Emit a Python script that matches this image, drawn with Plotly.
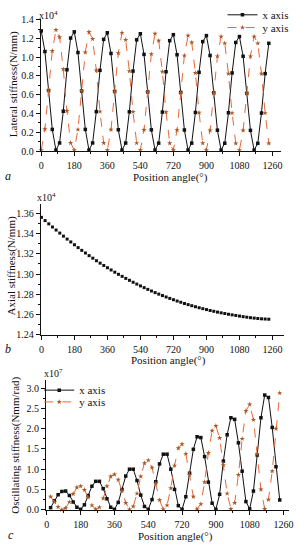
import plotly.graph_objects as go

# ---------------- data ----------------
angles = list(range(0, 1241, 20))          # position angle (deg), panels a & b
angles_c = list(range(20, 1241, 20))       # position angle (deg), panel c

# Panel a: lateral stiffness (x10^4 N/mm)
lat_x = [1.28, 1.06, 0.645, 0.23, 0.01, 0.086, 0.424, 0.866, 1.204,
         1.27, 1.05, 0.64, 0.23, 0.01, 0.086, 0.42, 0.86, 1.19,
         1.26, 1.04, 0.635, 0.227, 0.01, 0.085, 0.418, 0.852, 1.185,
         1.25, 1.03, 0.63, 0.226, 0.01, 0.084, 0.415, 0.845, 1.176,
         1.24, 1.026, 0.625, 0.224, 0.01, 0.084, 0.411, 0.839, 1.166,
         1.23, 1.018, 0.62, 0.222, 0.01, 0.083, 0.408, 0.832, 1.157,
         1.22, 1.01, 0.615, 0.22, 0.01, 0.082, 0.405, 0.825, 1.148]
lat_y = [0.010, 0.233, 0.650, 1.067, 1.290, 1.213, 0.872, 0.428, 0.087,
         0.010, 0.229, 0.640, 1.051, 1.270, 1.194, 0.859, 0.421, 0.086,
         0.010, 0.227, 0.635, 1.043, 1.260, 1.185, 0.852, 0.418, 0.085,
         0.010, 0.226, 0.630, 1.034, 1.250, 1.176, 0.845, 0.415, 0.084,
         0.010, 0.222, 0.620, 1.018, 1.230, 1.157, 0.832, 0.408, 0.083,
         0.010, 0.220, 0.615, 1.010, 1.220, 1.148, 0.825, 0.405, 0.082,
         0.010, 0.220, 0.615, 1.010, 1.220, 1.148, 0.825, 0.405, 0.082]

# Panel b: axial stiffness (x10^4 N/mm)
axial = [1.3558, 1.3526, 1.3494, 1.3463, 1.3433, 1.3403, 1.3373, 1.3344, 1.3316,
         1.3288, 1.3260, 1.3233, 1.3207, 1.3181, 1.3156, 1.3131, 1.3107, 1.3084,
         1.3062, 1.3040, 1.3018, 1.2997, 1.2977, 1.2957, 1.2938, 1.2919, 1.2901,
         1.2883, 1.2866, 1.2849, 1.2833, 1.2817, 1.2802, 1.2788, 1.2774, 1.2760,
         1.2747, 1.2734, 1.2722, 1.2710, 1.2699, 1.2688, 1.2678, 1.2668, 1.2659,
         1.2650, 1.2641, 1.2633, 1.2625, 1.2618, 1.2611, 1.2604, 1.2598, 1.2592,
         1.2586, 1.2580, 1.2575, 1.2570, 1.2566, 1.2562, 1.2559, 1.2557, 1.2555]

# Panel c: oscillating stiffness (x10^7 Nmm/rad)
osc_x = [0.05, 0.22, 0.37, 0.45, 0.46, 0.35, 0.19, 0.06,
         0.01, 0.12, 0.35, 0.58, 0.70, 0.70, 0.52, 0.27, 0.06,
         0.01, 0.18, 0.50, 0.83, 1.00, 1.00, 0.72, 0.36, 0.08,
         0.01, 0.25, 0.69, 1.13, 1.37, 1.37, 1.00, 0.50, 0.10,
         0.01, 0.32, 0.90, 1.49, 1.80, 1.78, 1.31, 0.68, 0.16,
         0.01, 0.38, 1.20, 1.85, 2.27, 2.23, 1.65, 0.95, 0.20,
         0.02, 0.46, 1.35, 2.27, 2.83, 2.77, 2.03, 1.06, 0.24]
osc_y = [0.32, 0.19, 0.07, 0.00,
         0.04, 0.19, 0.39, 0.55, 0.58, 0.49, 0.30, 0.11, 0.01,
         0.06, 0.28, 0.58, 0.82, 0.87, 0.74, 0.46, 0.17, 0.01,
         0.08, 0.40, 0.82, 1.15, 1.22, 1.04, 0.65, 0.24, 0.01,
         0.11, 0.53, 1.09, 1.52, 1.62, 1.38, 0.86, 0.32, 0.01,
         0.14, 0.68, 1.40, 1.95, 2.07, 1.77, 1.10, 0.40, 0.02,
         0.17, 0.86, 1.75, 2.44, 2.60, 2.22, 1.38, 0.50, 0.02,
         0.25, 0.95, 2.00, 2.88]

x_ticks = [0, 180, 360, 540, 720, 900, 1080, 1260]
x_minor = [90, 270, 450, 630, 810, 990, 1170]

# ---------------- styles ----------------
W, H = 299, 550
FONT = "Liberation Serif"
BLACK = "#111111"
RED_LINE = "#e8683a"
RED_MARK = "#a85a26"

def px(x):
    return x / W

def py(y):
    return 1 - y / H

fig = go.Figure()

def black_line(x, y, xa, ya, lg):
    return go.Scatter(x=x, y=y, mode="lines+markers", name="x axis",
                      line=dict(color=BLACK, width=1),
                      marker=dict(symbol="square", size=3.5, color=BLACK),
                      xaxis=xa, yaxis=ya, legend=lg, cliponaxis=False)

def red_line(x, y, xa, ya, lg):
    return go.Scatter(x=x, y=y, mode="lines+markers", name="y axis",
                      line=dict(color=RED_LINE, width=1, dash="dash"),
                      marker=dict(symbol="star", size=4, color=RED_MARK),
                      xaxis=xa, yaxis=ya, legend=lg, cliponaxis=False)

fig.add_trace(black_line(angles, lat_x, "x", "y", "legend"))
fig.add_trace(red_line(angles, lat_y, "x", "y", "legend2"))
fig.add_trace(go.Scatter(x=angles, y=axial, mode="markers", name="axial",
                         marker=dict(symbol="square", size=3, color=BLACK),
                         xaxis="x2", yaxis="y2", showlegend=False, cliponaxis=False))
fig.add_trace(black_line(angles_c, osc_x, "x3", "y3", "legend3"))
fig.add_trace(red_line(angles_c, osc_y, "x3", "y3", "legend4"))

axis_common = dict(showline=True, linecolor=BLACK, linewidth=1, ticks="outside",
                   ticklen=4, tickwidth=1, tickcolor=BLACK, showgrid=False,
                   zeroline=False, tickfont=dict(family=FONT, size=10, color=BLACK))

def xax(domain, rng, anchor):
    return dict(axis_common, domain=domain, range=rng, anchor=anchor,
                tickvals=x_ticks, ticktext=[str(t) for t in x_ticks],
                ticklabelstandoff=1,
                minor=dict(ticks="outside", ticklen=2, tickcolor=BLACK, tickvals=x_minor))

def yax(domain, rng, anchor, dtick, tick0, fmt, minor_dtick):
    return dict(axis_common, domain=domain, range=rng, anchor=anchor,
                dtick=dtick, tick0=tick0, tickformat=fmt,
                minor=dict(ticks="outside", ticklen=2, tickcolor=BLACK, dtick=minor_dtick))

def leg(x, y):
    return dict(x=px(x), y=py(y), xanchor="left", yanchor="middle",
                bgcolor="rgba(0,0,0,0)", font=dict(family=FONT, size=11, color=BLACK),
                itemwidth=30, borderwidth=0)

fig.update_layout(
    width=W, height=H, margin=dict(l=0, r=0, t=0, b=0),
    paper_bgcolor="white", plot_bgcolor="white",
    font=dict(family=FONT, size=11, color=BLACK),
    xaxis=xax([px(39.5), px(285)], [-3, 1308], "y"),
    yaxis=yax([py(149), py(14)], [0, 1.41], "x", 0.2, 0, ".1f", 0.1),
    xaxis2=xax([px(39.5), px(288)], [-4, 1324], "y2"),
    yaxis2=yax([py(336.7), py(203)], [1.24, 1.369], "x2", 0.02, 1.24, ".2f", 0.01),
    xaxis3=xax([px(45), px(293)], [-4, 1290], "y3"),
    yaxis3=yax([py(515), py(382.7)], [0, 3.2], "x3", 0.5, 0, ".1f", 0.25),
    legend=leg(225, 10),
    legend2=leg(225, 23),
    legend3=leg(38, 393),
    legend4=leg(38, 405),
)

ann = []
def text(x, y, s, size=11, angle=0, italic=False, xanchor="center"):
    ann.append(dict(x=px(x), y=py(y), xref="paper", yref="paper", text=s,
                    showarrow=False, textangle=angle, xanchor=xanchor, yanchor="middle",
                    font=dict(family=FONT, size=size, color=BLACK,
                              style="italic" if italic else "normal")))

# y titles
text(12, 81, "Lateral stiffness(N/mm)", angle=-90)
text(10, 266, "Axial stiffness(N/mm)", angle=-90)
text(13, 449, "Oscillating stiffness(Nmm/rad)", angle=-90)
# x titles
text(172, 176, "Position angle(°)")
text(170, 363, "Position angle(°)")
text(177, 542.5, "Position angle(°)")
# panel letters
text(6, 174, "a", size=12, italic=True)
text(6, 351, "b", size=12, italic=True)
text(9, 541, "c", size=12, italic=True)
# exponents
text(36, 10, "x10<sup>4</sup>", size=10, xanchor="left")
text(34, 196, "x10<sup>4</sup>", size=10, xanchor="left")
text(41, 375, "x10<sup>7</sup>", size=10, xanchor="left")

fig.update_layout(annotations=ann)
fig.write_html("out.html", config={"displayModeBar": False},
               post_script="document.body.style.margin='0';document.body.style.overflow='hidden';")
